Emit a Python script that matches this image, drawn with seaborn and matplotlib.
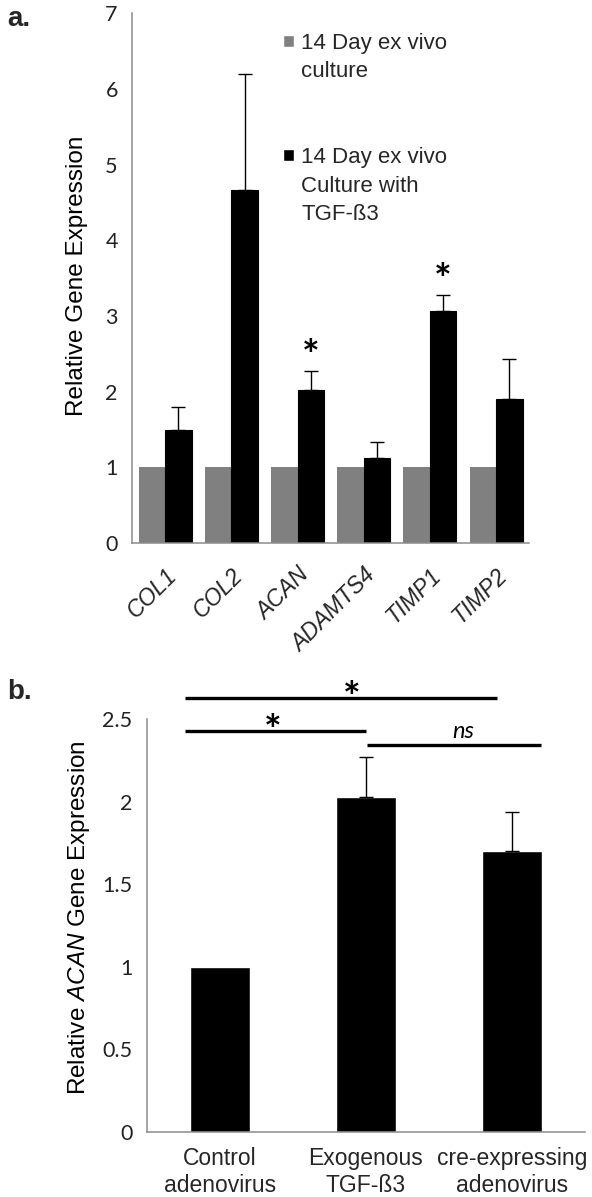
import numpy as np
import pandas as pd
import matplotlib
matplotlib.use("Agg")
import matplotlib.pyplot as plt
from matplotlib.patches import Patch
import seaborn as sns

# panel a data
genes = ["COL1", "COL2", "ACAN", "ADAMTS4", "TIMP1", "TIMP2"]
control_vals = [1.0, 1.0, 1.0, 1.0, 1.0, 1.0]
tgf_vals = [1.49, 4.66, 2.02, 1.12, 3.07, 1.90]
tgf_err = [0.30, 1.54, 0.25, 0.22, 0.20, 0.53]
sig_genes = ["ACAN", "TIMP1"]
group_labels = ["14 Day ex vivo culture", "14 Day ex vivo Culture with TGF-ß3"]

# panel b data
conditions = ["Control\nadenovirus", "Exogenous\nTGF-ß3", "cre-expressing\nadenovirus"]
acan_vals = [1.0, 2.03, 1.70]
acan_err = [0.0, 0.24, 0.24]
# (from, to, level, text, text x)
comparisons = [(0, 1.9, 2.63, "*", 0.9), (0, 1, 2.43, "*", 0.36), (1, 2.2, 2.34, "ns", 1.67)]

GREY = "#808080"
AXIS = "#8c8c8c"
ARIAL = ["Liberation Sans", "DejaVu Sans"]
CALIBRI = ["Lato", "DejaVu Sans"]

sns.set_theme(style="white")
plt.rcParams["font.family"] = ARIAL
plt.rcParams["mathtext.fontset"] = "custom"
plt.rcParams["mathtext.rm"] = "Liberation Sans"
plt.rcParams["mathtext.it"] = "Liberation Sans:italic"

fig = plt.figure(figsize=(5.92, 11.97), dpi=100)
ax1 = fig.add_axes([0.223, 0.5464, 0.671, 0.4426])
ax2 = fig.add_axes([0.248, 0.0543, 0.740, 0.345])


def style_axis(ax):
    sns.despine(ax=ax)
    for side in ["left", "bottom"]:
        ax.spines[side].set_color(AXIS)
        ax.spines[side].set_linewidth(1.1)
    ax.tick_params(axis="y", which="major", direction="inout", length=10.5,
                   width=1.0, color=AXIS, labelsize=15.5, labelcolor="#222222", pad=5)
    for lab in ax.get_yticklabels():
        lab.set_family(CALIBRI)
    ax.tick_params(axis="x", which="major", length=0)
    ax.tick_params(axis="x", which="minor", direction="inout", length=10.5,
                   width=1.0, color=AXIS)


# ---- panel a ----
df_a = pd.DataFrame({
    "gene": genes * 2,
    "value": control_vals + tgf_vals,
    "group": [group_labels[0]] * len(genes) + [group_labels[1]] * len(genes),
})
sns.barplot(data=df_a, x="gene", y="value", hue="group", order=genes,
            hue_order=group_labels, palette=[GREY, "black"], width=0.8,
            errorbar=None, legend=False, saturation=1, ax=ax1)
for p in ax1.containers[0]:
    p.set_edgecolor("none")
black_bars = ax1.containers[1]
xs = [p.get_x() + p.get_width() / 2 for p in black_bars]
for p in black_bars:
    p.set_edgecolor("black")
    p.set_linewidth(0.8)
ax1.errorbar(xs, tgf_vals, yerr=[np.zeros(len(tgf_err)), tgf_err], fmt="none",
             ecolor="black", elinewidth=1.0, capsize=5, capthick=1.0)
for g in sig_genes:
    i = genes.index(g)
    ax1.text(xs[i], tgf_vals[i] + tgf_err[i] + 0.18, "*", ha="center", va="center",
             fontsize=30, fontweight="bold", family=CALIBRI, color="black")

ax1.set_xlim(-0.5, len(genes) - 0.5)
ax1.set_ylim(0, 7)
ax1.set_yticks(range(0, 8))
ax1.set_xticks(np.arange(-0.5, len(genes)), minor=True)
ax1.set_xticks(range(len(genes)))
ax1.set_xticklabels(genes, rotation=45, ha="right", va="top", rotation_mode="anchor",
                    fontsize=16.5, style="italic")
ax1.set_xlabel("")
ax1.set_ylabel("Relative Gene Expression", fontsize=17.5, color="black")
ax1.yaxis.set_label_coords(-0.11, 0.505)
style_axis(ax1)
ax1.tick_params(axis="x", which="major", pad=15)

handles = [Patch(facecolor=GREY), Patch(facecolor="none", edgecolor="none"),
           Patch(facecolor="none", edgecolor="none"), Patch(facecolor="none", edgecolor="none"),
           Patch(facecolor="black"), Patch(facecolor="none", edgecolor="none"),
           Patch(facecolor="none", edgecolor="none")]
labels = ["14 Day ex vivo", "culture", "", "", "14 Day ex vivo", "Culture with", "TGF-ß3"]
ax1.legend(handles, labels, loc="upper left", bbox_to_anchor=(0.38, 0.963),
           frameon=False, fontsize=16, handlelength=0.5, handleheight=0.5,
           handletextpad=0.33, labelspacing=0.34, borderpad=0, borderaxespad=0)

# ---- panel b ----
df_b = pd.DataFrame({"condition": conditions, "value": acan_vals})
sns.barplot(data=df_b, x="condition", y="value", order=conditions, color="black",
            width=0.41, errorbar=None, saturation=1, ax=ax2)
bars_b = ax2.containers[0]
xb = [p.get_x() + p.get_width() / 2 for p in bars_b]
err_idx = [i for i, e in enumerate(acan_err) if e > 0]
ax2.errorbar([xb[i] for i in err_idx], [acan_vals[i] for i in err_idx],
             yerr=[np.zeros(len(err_idx)), [acan_err[i] for i in err_idx]],
             fmt="none", ecolor="black", elinewidth=1.0, capsize=5, capthick=1.0)
for a, b, lvl, txt, tx in comparisons:
    x0 = xb[a] - 0.24 if a == 0 else xb[a] + 0.005
    x1 = b if isinstance(b, float) else xb[b]
    ax2.plot([x0, x1], [lvl, lvl], color="black", lw=2.4, clip_on=False,
             solid_capstyle="butt")
    if txt == "*":
        ax2.text(tx, lvl - 0.015, "*", ha="center", va="center",
                 fontsize=30, fontweight="bold", family=CALIBRI, color="black")
    else:
        ax2.text(tx, lvl + 0.02, txt, ha="center", va="bottom",
                 fontsize=17, style="italic", family=CALIBRI, color="black")

ax2.set_xlim(-0.5, len(conditions) - 0.5)
ax2.set_ylim(0, 2.5)
ax2.set_yticks(np.arange(0, 2.51, 0.5))
ax2.set_yticklabels(["0", "0.5", "1", "1.5", "2", "2.5"])
ax2.set_xticks(np.arange(-0.5, len(conditions)), minor=True)
ax2.set_xticks(range(len(conditions)))
ax2.set_xticklabels(conditions, fontsize=16.5, linespacing=1.2)
ax2.set_xlabel("")
ax2.set_ylabel("Relative $\\mathit{ACAN}$ Gene Expression", fontsize=17.5, color="black")
ax2.yaxis.set_label_coords(-0.125, 0.52)
style_axis(ax2)
ax2.tick_params(axis="x", which="major", pad=11)

fig.text(0.012, 0.984, "a.", fontsize=20, fontweight="bold", va="center")
fig.text(0.012, 0.422, "b.", fontsize=20, fontweight="bold", va="center")

fig.savefig("out.png", dpi=100)
